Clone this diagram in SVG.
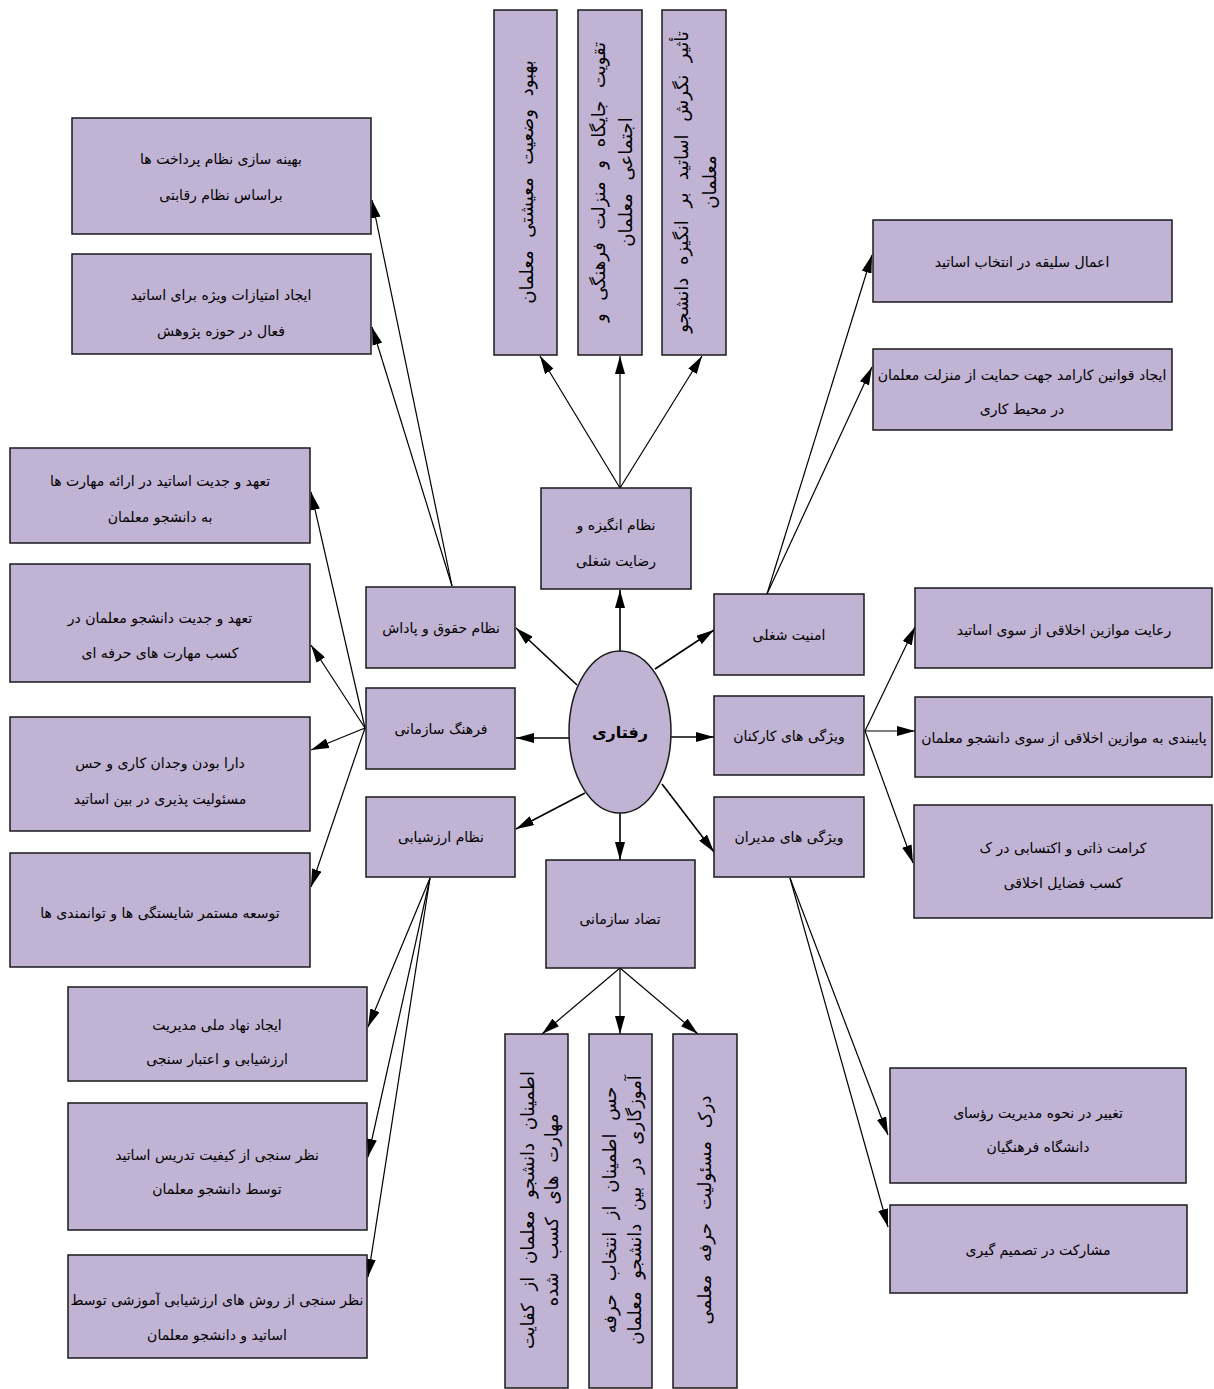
<svg xmlns="http://www.w3.org/2000/svg" width="1214" height="1389" viewBox="0 0 1214 1389">
<defs>
<style>
.b{fill:#C1B3D4;stroke:#1a1a1a;stroke-width:1.5}
.t{font-family:"DejaVu Sans",sans-serif;font-size:14px;fill:#000;text-anchor:middle;direction:rtl}
.v{font-size:18px;word-spacing:7px}
.c{stroke:#000;stroke-width:1.2;fill:none;marker-end:url(#ah)}
.m{stroke:#000;stroke-width:1.6;fill:none;marker-end:url(#ah)}
</style>
<marker id="ah" viewBox="0 0 18 10" refX="18" refY="5" markerWidth="18" markerHeight="10" markerUnits="userSpaceOnUse" orient="auto">
<path d="M0,0 L18,5 L0,10 z" fill="#000"/>
</marker>
</defs>
<rect width="1214" height="1389" fill="#fff"/>

<g id="connectors">
<path class="m" d="M620,651 L620,590"/>
<path class="m" d="M655,669 L714,630"/>
<path class="m" d="M670,737 L714,737"/>
<path class="m" d="M662,784 L714,852"/>
<path class="m" d="M620,813 L620,860"/>
<path class="m" d="M585,793 L516,829"/>
<path class="m" d="M569,738 L516,738"/>
<path class="m" d="M577,685 L516,628"/>
<path class="c" d="M620,488 L540,356"/>
<path class="c" d="M620,488 L620,356"/>
<path class="c" d="M620,488 L702,356"/>
<path class="c" d="M620,968 L542,1034"/>
<path class="c" d="M620,968 L620,1034"/>
<path class="c" d="M620,968 L698,1034"/>
<path class="c" d="M767,594 L872,255"/>
<path class="c" d="M767,594 L872,367"/>
<path class="c" d="M865,731 L915,627"/>
<path class="c" d="M865,731 L915,731"/>
<path class="c" d="M865,731 L913,863"/>
<path class="c" d="M790,878 L888,1135"/>
<path class="c" d="M790,878 L888,1227"/>
<path class="c" d="M452,586 L372,200"/>
<path class="c" d="M452,586 L372,327"/>
<path class="c" d="M365,728 L311,492"/>
<path class="c" d="M365,728 L311,645"/>
<path class="c" d="M365,728 L311,750"/>
<path class="c" d="M365,728 L311,887"/>
<path class="c" d="M430,878 L368,1027"/>
<path class="c" d="M430,878 L368,1157"/>
<path class="c" d="M430,878 L368,1277"/>
</g>

<g id="center">
<ellipse class="b" cx="620" cy="732" rx="51" ry="81"/>
<text class="t" x="620" y="738" style="font-weight:bold;font-size:16px">رفتاری</text>
</g>

<g id="n-angizeh"><rect class="b" x="541" y="488" width="150" height="101"/>
<text class="t" x="616" y="530">نظام انگیزه و</text><text class="t" x="616" y="566">رضایت شغلی</text></g>
<g id="n-amniat"><rect class="b" x="714" y="594" width="150" height="81"/>
<text class="t" x="789" y="640">امنیت شغلی</text></g>
<g id="n-karkonan"><rect class="b" x="714" y="696" width="150" height="79"/>
<text class="t" x="789" y="741">ویژگی های کارکنان</text></g>
<g id="n-modiran"><rect class="b" x="714" y="797" width="150" height="80"/>
<text class="t" x="789" y="842">ویژگی های مدیران</text></g>
<g id="n-tazad"><rect class="b" x="546" y="860" width="149" height="108"/>
<text class="t" x="620" y="924">تضاد سازمانی</text></g>
<g id="n-hoghogh"><rect class="b" x="366" y="587" width="149" height="81"/>
<text class="t" x="441" y="633">نظام حقوق و پاداش</text></g>
<g id="n-farhang"><rect class="b" x="366" y="688" width="149" height="81"/>
<text class="t" x="441" y="734">فرهنگ سازمانی</text></g>
<g id="n-arzeshyabi"><rect class="b" x="366" y="797" width="149" height="80"/>
<text class="t" x="441" y="842">نظام ارزشیابی</text></g>

<g id="v1"><rect class="b" x="494" y="10" width="63" height="345"/>
<text class="t v" transform="translate(526,182) rotate(-90)" y="7">بهبود وضعیت معیشتی معلمان</text></g>
<g id="v2"><rect class="b" x="578" y="10" width="64" height="345"/>
<text class="t v" transform="translate(610,182) rotate(-90)" y="-5">تقویت جایگاه و منزلت فرهنگی و</text>
<text class="t v" transform="translate(610,182) rotate(-90)" y="22">اجتماعی معلمان</text></g>
<g id="v3"><rect class="b" x="662" y="10" width="64" height="345"/>
<text class="t v" transform="translate(694,182) rotate(-90)" y="-6">تأثیر نگرش اساتید بر انگیزه دانشجو</text>
<text class="t v" transform="translate(694,182) rotate(-90)" y="22">معلمان</text></g>

<g id="bv1"><rect class="b" x="505" y="1034" width="63" height="354"/>
<text class="t v" transform="translate(537,1210) rotate(-90)" y="-3">اطمینان دانشجو معلمان از کفایت</text>
<text class="t v" transform="translate(537,1210) rotate(-90)" y="21">مهارت های کسب شده</text></g>
<g id="bv2"><rect class="b" x="589" y="1034" width="63" height="354"/>
<text class="t v" transform="translate(621,1210) rotate(-90)" y="-5">حس اطمینان از انتخاب حرفه</text>
<text class="t v" transform="translate(621,1210) rotate(-90)" y="20">آموزگاری در بین دانشجو معلمان</text></g>
<g id="bv3"><rect class="b" x="673" y="1034" width="64" height="354"/>
<text class="t v" transform="translate(705,1210) rotate(-90)" y="6">درک مسئولیت حرفه معلمی</text></g>

<g id="u1"><rect class="b" x="72" y="118" width="299" height="116"/>
<text class="t" x="221" y="164">بهینه سازی نظام پرداخت ها</text><text class="t" x="221" y="200">براساس نظام رقابتی</text></g>
<g id="u2"><rect class="b" x="72" y="254" width="299" height="100"/>
<text class="t" x="221" y="300">ایجاد امتیازات ویژه برای اساتید</text><text class="t" x="221" y="336">فعال در حوزه پژوهش</text></g>

<g id="l1"><rect class="b" x="10" y="448" width="300" height="95"/>
<text class="t" x="160" y="486">تعهد و جدیت اساتید در ارائه مهارت ها</text><text class="t" x="160" y="522">به دانشجو معلمان</text></g>
<g id="l2"><rect class="b" x="10" y="564" width="300" height="118"/>
<text class="t" x="160" y="623">تعهد و جدیت دانشجو معلمان در</text><text class="t" x="160" y="658">کسب مهارت های حرفه ای</text></g>
<g id="l3"><rect class="b" x="10" y="717" width="300" height="114"/>
<text class="t" x="160" y="768">دارا بودن وجدان کاری و حس</text><text class="t" x="160" y="804">مسئولیت پذیری در بین اساتید</text></g>
<g id="l4"><rect class="b" x="10" y="853" width="300" height="114"/>
<text class="t" x="160" y="918">توسعه مستمر شایستگی ها و توانمندی ها</text></g>

<g id="b1"><rect class="b" x="68" y="987" width="299" height="94"/>
<text class="t" x="217" y="1030">ایجاد نهاد ملی مدیریت</text><text class="t" x="217" y="1064">ارزشیابی و اعتبار سنجی</text></g>
<g id="b2"><rect class="b" x="68" y="1103" width="299" height="127"/>
<text class="t" x="217" y="1160">نظر سنجی از کیفیت تدریس اساتید</text><text class="t" x="217" y="1194">توسط دانشجو معلمان</text></g>
<g id="b3"><rect class="b" x="68" y="1255" width="299" height="103"/>
<text class="t" x="217" y="1305">نظر سنجی از روش های ارزشیابی آموزشی توسط</text><text class="t" x="217" y="1340">اساتید و دانشجو معلمان</text></g>

<g id="r1"><rect class="b" x="873" y="220" width="299" height="82"/>
<text class="t" x="1022" y="267">اعمال سلیقه در انتخاب اساتید</text></g>
<g id="r2"><rect class="b" x="873" y="349" width="299" height="81"/>
<text class="t" x="1022" y="380">ایجاد قوانین کارامد جهت حمایت از منزلت معلمان</text><text class="t" x="1022" y="414">در محیط کاری</text></g>
<g id="r3"><rect class="b" x="915" y="588" width="297" height="80"/>
<text class="t" x="1064" y="635">رعایت موازین اخلاقی از سوی اساتید</text></g>
<g id="r4"><rect class="b" x="915" y="697" width="297" height="80"/>
<text class="t" x="1064" y="743">پایبندی به موازین اخلاقی از سوی دانشجو معلمان</text></g>
<g id="r5"><rect class="b" x="914" y="805" width="298" height="113"/>
<text class="t" x="1063" y="853">کرامت ذاتی و اکتسابی در ک</text><text class="t" x="1063" y="888">کسب فضایل اخلاقی</text></g>
<g id="r6"><rect class="b" x="890" y="1068" width="296" height="115"/>
<text class="t" x="1038" y="1118">تغییر در نحوه مدیریت رؤسای</text><text class="t" x="1038" y="1152">دانشگاه فرهنگیان</text></g>
<g id="r7"><rect class="b" x="890" y="1205" width="297" height="88"/>
<text class="t" x="1038" y="1255">مشارکت در تصمیم گیری</text></g>
</svg>
